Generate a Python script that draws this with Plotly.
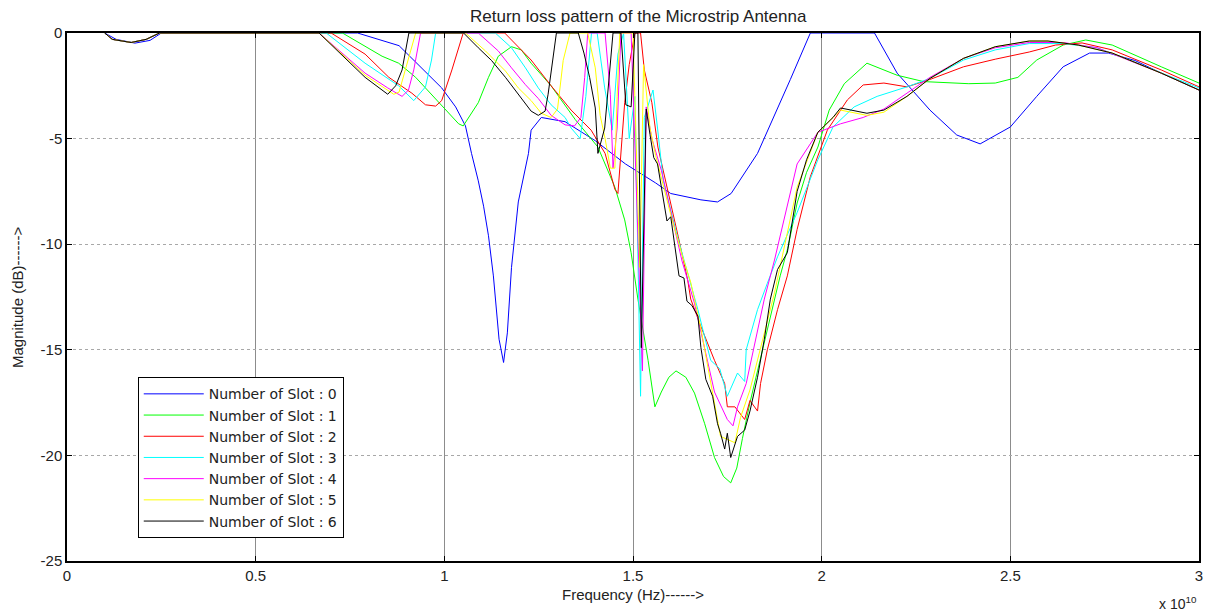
import plotly.graph_objects as go

# Frequency in units of 1e10 Hz, return loss in dB
freq_slot0 = [0.10, 0.13, 0.18, 0.22, 0.25, 0.77, 0.88, 0.966, 0.993, 1.03, 1.056, 1.072, 1.09, 1.104, 1.117,
              1.13, 1.145, 1.157, 1.167, 1.178, 1.196, 1.223, 1.23, 1.257, 1.32, 1.40, 1.48, 1.56, 1.60, 1.68,
              1.724, 1.76, 1.83, 1.917, 1.97, 2.14, 2.20, 2.287, 2.358, 2.42, 2.50, 2.57, 2.64, 2.71, 2.76,
              2.83, 2.90, 3.00]
rl_slot0 = [0, -0.3, -0.48, -0.35, 0, 0, -0.6, -2.1, -2.6, -3.5, -4.4, -5.7, -7.0, -8.2, -9.6,
            -11.5, -14.5, -15.6, -14.2, -11.1, -8.0, -5.7, -4.6, -4.0, -4.2, -5.1, -6.2, -7.1, -7.6, -7.9,
            -8.0, -7.6, -5.7, -2.2, 0, 0, -1.9, -3.65, -4.83, -5.25, -4.45, -3.0, -1.6, -0.95, -0.95,
            -1.3, -1.9, -2.7]

freq_slot1 = [0.10, 0.12, 0.17, 0.21, 0.245, 0.73, 0.835, 0.879, 0.924, 0.985, 1.038, 1.05, 1.09, 1.117, 1.143,
              1.178, 1.204, 1.23, 1.283, 1.347, 1.407, 1.452, 1.478, 1.495, 1.513, 1.54, 1.558, 1.575, 1.595, 1.614,
              1.64, 1.663, 1.69, 1.716, 1.74, 1.759, 1.775, 1.79, 1.81, 1.83, 1.85, 1.87, 1.89, 1.91, 1.935,
              1.96, 1.99, 2.02, 2.06, 2.12, 2.20, 2.27, 2.39, 2.46, 2.52, 2.57, 2.64, 2.70, 2.77, 2.90, 3.00]
rl_slot1 = [0, -0.3, -0.45, -0.3, 0, 0, -1.1, -1.43, -2.1, -3.3, -4.3, -4.4, -3.3, -2.1, -1.1,
            -0.65, -0.8, -1.43, -2.5, -4.1, -5.4, -7.3, -8.85, -10.4, -12.6, -15.5, -17.7, -17.0, -16.3, -16.0,
            -16.3, -17.05, -18.5, -20.1, -21.0, -21.3, -20.6, -19.2, -17.5, -16.0, -14.5, -13.0, -11.5, -10.2, -8.05,
            -6.6, -5.4, -3.65, -2.4, -1.43, -2.0, -2.3, -2.4, -2.37, -2.1, -1.28, -0.57, -0.33, -0.57, -1.6, -2.37]

freq_slot2 = [0.10, 0.12, 0.17, 0.21, 0.245, 0.70, 0.79, 0.853, 0.914, 0.95, 0.977, 0.993, 1.02, 1.038, 1.05,
              1.16, 1.23, 1.283, 1.336, 1.389, 1.426, 1.452, 1.46, 1.478, 1.49, 1.505, 1.52, 1.53, 1.55, 1.566,
              1.584, 1.60, 1.62, 1.645, 1.653, 1.68, 1.716, 1.743, 1.75, 1.77, 1.796, 1.81, 1.83, 1.838, 1.856,
              1.883, 1.909, 1.935, 1.97, 2.015, 2.068, 2.11, 2.165, 2.226, 2.287, 2.376, 2.46, 2.55, 2.62, 2.69,
              2.77, 2.90, 3.00]
rl_slot2 = [0, -0.3, -0.45, -0.3, 0, 0, -1.0, -2.1, -2.85, -3.4, -3.46, -3.2, -1.75, -0.65, 0,
            0, -1.28, -2.5, -3.65, -4.6, -5.7, -7.4, -7.6, -3.3, -1.5, 0, 0, -1.75, -3.3, -5.4,
            -6.8, -8.2, -9.65, -11.7, -12.6, -13.9, -15.5, -16.6, -17.7, -17.7, -18.3, -17.4, -17.9, -16.6, -15.0,
            -13.1, -11.5, -9.3, -6.8, -4.6, -3.17, -2.46, -2.37, -2.55, -2.2, -1.6, -1.24, -0.9, -0.57, -0.47,
            -0.8, -1.75, -2.55]

freq_slot3 = [0.10, 0.12, 0.17, 0.21, 0.245, 0.687, 0.79, 0.879, 0.919, 0.95, 0.966, 0.977, 1.135, 1.178, 1.215,
              1.249, 1.283, 1.32, 1.336, 1.36, 1.375, 1.39, 1.405, 1.425, 1.445, 1.46, 1.475, 1.49, 1.505, 1.52,
              1.53, 1.553, 1.565, 1.58, 1.618, 1.653, 1.672, 1.69, 1.706, 1.73, 1.75, 1.777, 1.796, 1.80, 1.83,
              1.856, 1.883, 1.935, 1.99, 2.03, 2.086, 2.147, 2.226, 2.287, 2.376, 2.46, 2.55, 2.64, 2.73, 2.815, 3.00]
rl_slot3 = [0, -0.3, -0.45, -0.3, 0, 0, -1.43, -2.5, -3.2, -2.55, -1.28, 0, 0, -0.7, -1.65,
            -2.6, -3.4, -4.0, -4.5, -5.0, -3.0, 0, 0, -2.6, -4.6, -1.0, 0, -5.0, -3.0, -17.2,
            -4.0, -2.7, -4.5, -6.96, -9.65, -11.85, -13.1, -14.4, -15.5, -15.9, -17.2, -16.1, -16.5, -15.0, -13.1,
            -11.85, -10.6, -8.5, -6.0, -4.45, -3.5, -3.0, -2.55, -2.15, -1.28, -0.8, -0.5, -0.5, -0.7, -1.28, -2.6]

freq_slot4 = [0.10, 0.12, 0.17, 0.21, 0.245, 0.668, 0.79, 0.85, 0.888, 0.905, 0.919, 0.937, 1.09, 1.143, 1.178,
              1.215, 1.249, 1.283, 1.32, 1.345, 1.362, 1.372, 1.38, 1.426, 1.44, 1.447, 1.458, 1.468, 1.495, 1.525,
              1.535, 1.55, 1.575, 1.60, 1.63, 1.663, 1.69, 1.716, 1.75, 1.765, 1.777, 1.80, 1.848, 1.875, 1.935,
              1.99, 2.05, 2.11, 2.165, 2.226, 2.287, 2.376, 2.46, 2.55, 2.64, 2.73, 2.90, 3.00]
rl_slot4 = [0, -0.3, -0.45, -0.3, 0, 0, -1.9, -2.6, -3.0, -2.7, -1.75, 0, 0, -0.85, -1.65,
            -2.45, -3.1, -3.9, -4.35, -4.4, -4.0, -2.1, 0, 0, -2.9, -6.4, -4.5, 0, 0, -16.0,
            -3.5, -5.0, -6.5, -8.5, -10.8, -12.8, -15.0, -17.0, -18.3, -18.6, -17.7, -16.6, -12.6, -10.75, -6.2,
            -4.7, -4.3, -4.0, -3.6, -2.85, -2.1, -1.2, -0.7, -0.45, -0.45, -0.7, -1.9, -2.7]

freq_slot5 = [0.10, 0.12, 0.17, 0.21, 0.245, 0.668, 0.79, 0.866, 0.88, 0.90, 0.924, 1.056, 1.109, 1.162, 1.196,
              1.23, 1.257, 1.283, 1.30, 1.315, 1.333, 1.38, 1.40, 1.413, 1.426, 1.44, 1.452, 1.458, 1.465, 1.50,
              1.518, 1.528, 1.545, 1.56, 1.58, 1.60, 1.63, 1.653, 1.68, 1.70, 1.732, 1.77, 1.785, 1.81, 1.848,
              1.875, 1.935, 1.99, 2.05, 2.12, 2.165, 2.226, 2.287, 2.376, 2.46, 2.55, 2.60, 2.68, 2.77, 2.90, 3.00]
rl_slot5 = [0, -0.3, -0.45, -0.3, 0, 0, -2.0, -2.9, -2.8, -1.5, 0, 0, -0.85, -1.8, -2.6,
            -3.2, -3.8, -4.0, -3.6, -1.3, 0, 0, -1.65, -3.9, -5.0, -6.4, -6.4, -3.0, 0, 0,
            -11.1, -1.5, -4.5, -5.8, -7.2, -8.6, -10.5, -11.8, -14.0, -16.0, -19.1, -19.4, -18.2, -16.9, -14.2,
            -12.3, -7.3, -4.7, -3.65, -3.9, -3.75, -3.0, -2.15, -1.2, -0.65, -0.38, -0.38, -0.57, -0.95, -1.9, -2.7]

freq_slot6 = [0.10, 0.12, 0.17, 0.21, 0.245, 0.668, 0.79, 0.85, 0.871, 0.888, 0.906, 1.051, 1.09, 1.125, 1.162,
              1.196, 1.23, 1.249, 1.267, 1.275, 1.289, 1.297, 1.355, 1.37, 1.385, 1.40, 1.407, 1.425, 1.447, 1.468,
              1.481, 1.495, 1.505, 1.513, 1.522, 1.535, 1.545, 1.555, 1.565, 1.577, 1.59, 1.60, 1.61, 1.622, 1.635,
              1.643, 1.656, 1.672, 1.68, 1.693, 1.711, 1.724, 1.732, 1.743, 1.75, 1.759, 1.777, 1.796, 1.81, 1.83,
              1.848, 1.864, 1.883, 1.909, 1.935, 1.96, 1.99, 2.03, 2.05, 2.12, 2.165, 2.226, 2.287, 2.376, 2.46,
              2.55, 2.60, 2.68, 2.77, 2.90, 3.00]
rl_slot6 = [0, -0.3, -0.45, -0.3, 0, 0, -2.1, -2.9, -2.5, -1.75, 0, 0, -0.7, -1.3, -2.1,
            -2.9, -3.7, -3.9, -3.7, -2.9, -1.2, 0, 0, -0.95, -2.1, -3.55, -5.7, -4.5, 0, 0,
            -3.4, -3.5, 0, 0, -14.9, -3.6, -4.8, -5.9, -6.2, -7.4, -8.9, -8.7, -10.1, -11.5, -11.6,
            -12.7, -12.9, -13.4, -14.9, -16.4, -17.2, -18.5, -18.95, -19.7, -18.95, -20.1, -19.1, -18.8, -17.9, -16.3,
            -14.5, -12.6, -11.2, -10.4, -7.5, -6.0, -4.7, -4.0, -3.55, -3.8, -3.65, -3.0, -2.15, -1.2, -0.65,
            -0.38, -0.38, -0.57, -0.95, -1.9, -2.7]

series_names = ["Number of Slot : 0", "Number of Slot : 1", "Number of Slot : 2", "Number of Slot : 3",
                "Number of Slot : 4", "Number of Slot : 5", "Number of Slot : 6"]
series_colors = ["#0000ff", "#00ff00", "#ff0000", "#00ffff", "#ff00ff", "#ffff00", "#000000"]

x_tickvals = [0, 0.5, 1, 1.5, 2, 2.5, 3]
x_ticktext = ["0", "0.5", "1", "1.5", "2", "2.5", "3"]
y_tickvals = [0, -5, -10, -15, -20, -25]
y_ticktext = ["0", "-5", "-10", "-15", "-20", "-25"]

freqs = [freq_slot0, freq_slot1, freq_slot2, freq_slot3, freq_slot4, freq_slot5, freq_slot6]
rls = [rl_slot0, rl_slot1, rl_slot2, rl_slot3, rl_slot4, rl_slot5, rl_slot6]

FONT = "Liberation Sans, Arial, sans-serif"
LEGFONT = "DejaVu Sans, Liberation Sans, sans-serif"

fig = go.Figure()
for fx, ry, nm, col in zip(freqs, rls, series_names, series_colors):
    fig.add_trace(go.Scatter(x=fx, y=ry, mode="lines", name=nm,
                             line=dict(color=col, width=1)))

fig.update_layout(
    width=1211, height=614,
    margin=dict(l=67, r=8, t=33, b=53),
    paper_bgcolor="white", plot_bgcolor="white",
    font=dict(family=FONT, color="black", size=14),
    title=dict(text="Return loss pattern of the Microstrip Antenna", x=0.527, xanchor="center",
               y=1 - 16 / 614, yanchor="middle", font=dict(size=17, family=FONT, color="#222")),
    showlegend=True,
    legend=dict(x=0.0625, y=0.348, xanchor="left", yanchor="top",
                bgcolor="white", bordercolor="black", borderwidth=1,
                itemwidth=60,
                font=dict(size=14, family=LEGFONT, color="#222"), tracegroupgap=0),
)
fig.update_xaxes(range=[0, 3], tickvals=x_tickvals, ticktext=x_ticktext,
                 showline=True, linecolor="black", linewidth=1.5, mirror="ticks",
                 ticks="inside", ticklen=5, tickcolor="black",
                 showgrid=True, gridcolor="#8c8c8c", gridwidth=1,
                 zeroline=False, tickfont=dict(size=15, family=FONT, color="#222"))
fig.update_yaxes(range=[-25, 0], tickvals=y_tickvals, ticktext=y_ticktext,
                 showline=True, linecolor="black", linewidth=1.5, mirror="ticks",
                 ticks="inside", ticklen=5, tickcolor="black",
                 showgrid=True, gridcolor="#a8a8a8", gridwidth=1, griddash="dot",
                 zeroline=False, tickfont=dict(size=15, family=FONT, color="#222"))

fig.add_annotation(text="Frequency (Hz)------>", xref="paper", yref="paper", x=0.5, y=0,
                   yshift=-33, xanchor="center", yanchor="middle", showarrow=False,
                   font=dict(size=15, family=FONT, color="#222"))
fig.add_annotation(text="Magnitude (dB)------>", xref="paper", yref="paper", x=0, y=0.5,
                   xshift=-50, textangle=-90, xanchor="center", yanchor="middle", showarrow=False,
                   font=dict(size=15, family=FONT, color="#222"))
fig.add_annotation(text="x 10<sup>10</sup>", xref="paper", yref="paper", x=1, y=0,
                   yshift=-42, xanchor="right", yanchor="middle", showarrow=False,
                   font=dict(size=14, family=FONT, color="#222"))

fig.write_html("out.html")
